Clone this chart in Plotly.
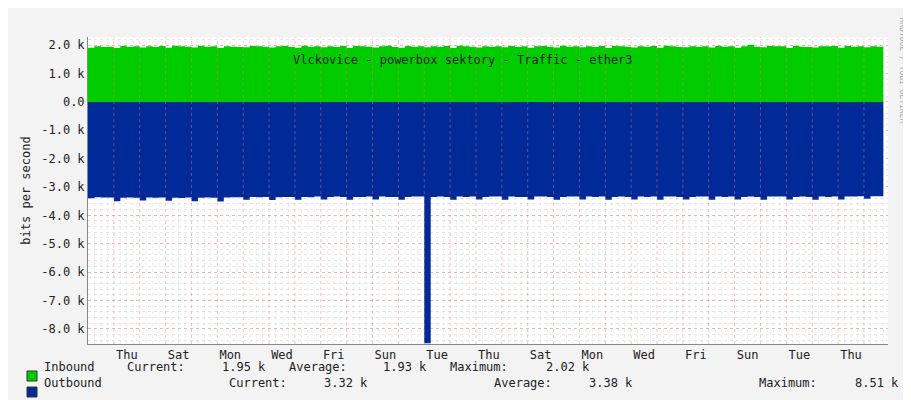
import plotly.graph_objects as go

# samples every 6 hours, starting Wednesday 00:00 (31 days)
inbound_k = [
    1.91, 1.96, 1.94, 1.95, 1.90, 1.97, 1.95, 1.96, 1.92, 1.96, 1.94, 1.97, 1.91, 1.98, 1.96, 1.95,
    1.92, 1.97, 1.95, 1.96, 1.90, 1.96, 1.95, 1.94, 1.93, 1.97, 1.96, 1.95, 1.92, 1.96, 1.97, 1.94,
    1.91, 1.98, 1.95, 1.96, 1.93, 1.96, 1.94, 1.97, 1.90, 1.97, 1.96, 1.95, 1.92, 1.96, 1.98, 1.94,
    1.91, 1.97, 1.95, 1.96, 1.93, 1.96, 1.95, 1.97, 1.90, 1.98, 1.96, 1.95, 1.92, 1.96, 1.95, 1.96,
    1.93, 1.97, 1.94, 1.96, 1.91, 1.96, 1.97, 1.95, 1.92, 1.98, 1.95, 1.96, 1.93, 1.96, 1.94, 1.97,
    1.90, 1.97, 1.96, 1.95, 1.92, 1.96, 1.95, 1.97, 1.91, 1.98, 1.96, 1.94, 1.93, 1.96, 1.95, 1.96,
    1.92, 1.97, 1.95, 1.96, 1.91, 1.96, 2.02, 1.95, 1.93, 1.97, 1.96, 1.96, 1.90, 1.97, 1.95, 1.94,
    1.92, 1.96, 1.96, 1.97, 1.91, 1.97, 1.95, 1.96, 1.93, 1.96, 1.95, 1.95,
]
outbound_k = [
    3.40, 3.36, 3.37, 3.37, 3.50, 3.38, 3.37, 3.38, 3.48, 3.37, 3.38, 3.37, 3.49, 3.38, 3.39, 3.37,
    3.50, 3.38, 3.37, 3.38, 3.51, 3.37, 3.36, 3.36, 3.45, 3.35, 3.36, 3.35, 3.46, 3.36, 3.35, 3.35,
    3.45, 3.35, 3.36, 3.34, 3.44, 3.35, 3.34, 3.35, 3.45, 3.35, 3.35, 3.34, 3.44, 3.34, 3.35, 3.35,
    3.45, 3.35, 3.34, 3.34, 8.51, 3.35, 3.34, 3.35, 3.45, 3.34, 3.35, 3.34, 3.44, 3.35, 3.34, 3.34,
    3.45, 3.34, 3.35, 3.35, 3.44, 3.34, 3.34, 3.35, 3.45, 3.35, 3.34, 3.34, 3.44, 3.34, 3.35, 3.34,
    3.45, 3.35, 3.34, 3.35, 3.44, 3.34, 3.35, 3.34, 3.45, 3.34, 3.34, 3.35, 3.44, 3.35, 3.34, 3.34,
    3.45, 3.34, 3.35, 3.34, 3.44, 3.35, 3.34, 3.35, 3.45, 3.34, 3.34, 3.34, 3.44, 3.35, 3.34, 3.35,
    3.45, 3.34, 3.35, 3.34, 3.44, 3.34, 3.34, 3.33, 3.42, 3.33, 3.33, 3.32,
]
days = [i * 6 / 24 for i in range(len(inbound_k))]

day_ticks = [1.5 + 2 * i for i in range(15)]
day_labels = ["Thu", "Sat", "Mon", "Wed", "Fri", "Sun", "Tue", "Thu",
              "Sat", "Mon", "Wed", "Fri", "Sun", "Tue", "Thu"]
y_ticks = [2, 1, 0, -1, -2, -3, -4, -5, -6, -7, -8]
y_labels = ["2.0 k", "1.0 k", "0.0", "-1.0 k", "-2.0 k", "-3.0 k", "-4.0 k",
            "-5.0 k", "-6.0 k", "-7.0 k", "-8.0 k"]

# legend rows: (text, pixel x) pieces
legend_rows = [
    ("#00cc00", [("Inbound", 34), ("Current:", 117), ("1.95 k", 212), ("Average:", 279),
                 ("1.93 k", 373), ("Maximum:", 440), ("2.02 k", 536)]),
    ("#002a97", [("Outbound", 34), ("Current:", 219), ("3.32 k", 314), ("Average:", 484),
                 ("3.38 k", 579), ("Maximum:", 749), ("8.51 k", 845)]),
]

MONO = "DejaVu Sans Mono"
L, R, T, B = 80, 31, 29, 64
PW, PH = 911 - L - R, 400 - T - B

fig = go.Figure()
fig.add_trace(go.Scatter(x=days, y=inbound_k, mode="lines", line=dict(width=0, shape="hv"),
                         fill="tozeroy", fillcolor="#00cc00", name="Inbound"))
fig.add_trace(go.Scatter(x=days, y=[-v for v in outbound_k], mode="lines",
                         line=dict(width=0, shape="hv"), fill="tozeroy",
                         fillcolor="#002a97", name="Outbound"))

for d in range(1, 31):
    fig.add_vline(x=d, line=dict(color="rgba(255,110,110,0.45)", width=1, dash="dot"), layer="above")
for q in range(1, 124):
    if q % 4:
        fig.add_vline(x=q / 4, line=dict(color="rgba(200,200,200,0.35)", width=1, dash="dot"), layer="below")

fig.update_layout(
    width=911, height=400,
    margin=dict(l=L, r=R, t=T, b=B, autoexpand=False),
    paper_bgcolor="#f3f3f3", plot_bgcolor="white",
    showlegend=False,
    font=dict(family=MONO, size=11, color="#222"),
)
fig.update_xaxes(range=[0, 30.93], tickvals=day_ticks, ticktext=day_labels, showgrid=False,
                 ticks="", showline=True, linecolor="#888", zeroline=False, automargin=False,
                 tickfont=dict(size=12))
fig.update_yaxes(range=[-8.54, 2.29], tickvals=y_ticks, ticktext=y_labels, ticks="",
                 showgrid=True, gridcolor="rgba(255,120,120,0.45)", griddash="dot",
                 minor=dict(dtick=0.2, showgrid=True, gridcolor="rgba(200,200,200,0.45)", griddash="dot"),
                 showline=True, linecolor="#888", zeroline=False, automargin=False,
                 tickfont=dict(size=12),
                 title=dict(text="bits per second", standoff=8, font=dict(size=12)))

fig.add_annotation(xref="paper", yref="paper", x=(455 - L) / PW, y=(400 - T - 14 - B) / PH,
                   showarrow=False, text="Vlckovice - powerbox sektory - Traffic - ether3",
                   font=dict(family=MONO, size=12, color="#222"))

for (col, pieces), py in zip(legend_rows, [368, 384]):
    yy = (400 - B - py) / PH
    fig.add_shape(type="rect", xref="paper", yref="paper",
                  x0=(19 - L) / PW, x1=(29 - L) / PW, y0=yy - 5 / PH, y1=yy + 5 / PH,
                  fillcolor=col, line=dict(color="#333", width=1))
    for txt, px in pieces:
        fig.add_annotation(xref="paper", yref="paper", x=(px - L) / PW, y=yy, xanchor="left",
                           showarrow=False, text=txt, font=dict(family=MONO, size=12))

fig.add_annotation(xref="paper", yref="paper", x=(900 - L) / PW, y=(400 - B - 8) / PH, yanchor="top",
                   showarrow=False, text="RRDTOOL / TOBI OETIKER", textangle=90,
                   font=dict(family=MONO, size=8, color="#aaa"))

fig.write_html("out.html")
